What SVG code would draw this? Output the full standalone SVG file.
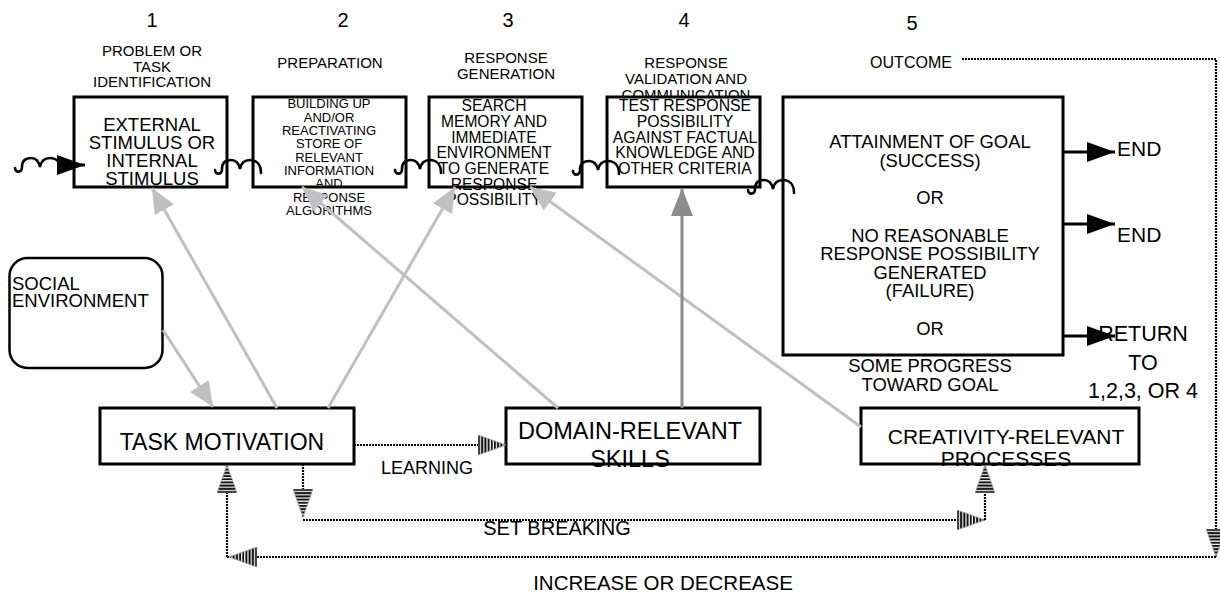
<svg xmlns="http://www.w3.org/2000/svg" width="1220" height="597" viewBox="0 0 1220 597">
<style>
text{font-family:"Liberation Sans",Arial,sans-serif;fill:#000}
.c{text-anchor:middle}
.box{fill:#fff;stroke:#000;stroke-width:3}
.num{font-size:20px}
.lab{font-size:15px}
.gl{stroke:#c0c0c0;stroke-width:3;fill:none;marker-end:url(#gHead)}
.dl{stroke:#8c8c8c;stroke-width:3;fill:none;marker-end:url(#dHead)}
.bl{stroke:#000;stroke-width:3;fill:none;marker-end:url(#bHead)}
.dot{stroke:#000;stroke-width:2.2;stroke-dasharray:2 1;fill:none}
.sa{marker-end:url(#sHead)}
.sq{stroke:#000;stroke-width:2.6;fill:none;stroke-linecap:round}
</style>
<defs>
<pattern id="stripes" patternUnits="userSpaceOnUse" width="3.2" height="30"><rect width="3.2" height="30" fill="#fff"/><rect width="2" height="30" fill="#111"/></pattern>
<marker id="gHead" markerUnits="userSpaceOnUse" viewBox="0 0 25 22" refX="25" refY="11" markerWidth="25" markerHeight="22" orient="auto"><path d="M0,0 L25,11 L0,22 z" fill="#c0c0c0"/></marker>
<marker id="dHead" markerUnits="userSpaceOnUse" viewBox="0 0 28 22" refX="28" refY="11" markerWidth="28" markerHeight="22" orient="auto"><path d="M0,0 L28,11 L0,22 z" fill="#8c8c8c"/></marker>
<marker id="bHead" markerUnits="userSpaceOnUse" viewBox="0 0 28 20" refX="28" refY="10" markerWidth="28" markerHeight="20" orient="auto"><path d="M0,0 L28,10 L0,20 z" fill="#000"/></marker>
<marker id="sHead" markerUnits="userSpaceOnUse" viewBox="0 0 28 20" refX="28" refY="10" markerWidth="28" markerHeight="20" orient="auto"><path d="M0,0 L28,10 L0,20 z" fill="url(#stripes)" stroke="#999" stroke-width="0.8"/></marker>
<path id="sq" d="M0,10 C0,15 7,15 7,9 C7,3 10,0 16,0 C21,0 24,4 25,9 C26,3 29,0 35,0 C41,0 46,4 46,13"/>
</defs>

<g id="stage-labels">
<text class="c num" x="152" y="27">1</text>
<text class="c num" x="343" y="27">2</text>
<text class="c num" x="508" y="27">3</text>
<text class="c num" x="684" y="27">4</text>
<text class="c num" x="912" y="30">5</text>
<text class="c lab" x="152" y="56">PROBLEM OR</text>
<text class="c lab" x="152" y="71.5">TASK</text>
<text class="c lab" x="152" y="87">IDENTIFICATION</text>
<text class="c lab" x="330" y="68">PREPARATION</text>
<text class="c lab" x="506" y="63">RESPONSE</text>
<text class="c lab" x="506" y="79">GENERATION</text>
<text class="c lab" x="686" y="68">RESPONSE</text>
<text class="c lab" x="686" y="84">VALIDATION AND</text>
<text class="c lab" x="686" y="99.5">COMMUNICATION</text>
<text class="c" x="911" y="68" font-size="16">OUTCOME</text>
</g>

<g id="box1">
<rect class="box" x="74" y="97" width="153" height="90"/>
<g class="c" font-size="18.5"><text x="152" y="131">EXTERNAL</text><text x="152" y="149">STIMULUS OR</text><text x="152" y="167">INTERNAL</text><text x="152" y="185">STIMULUS</text></g>
</g>
<g id="box2">
<rect class="box" x="253" y="97" width="153" height="90"/>
<g class="c" font-size="13"><text x="329" y="108">BUILDING UP</text><text x="329" y="121.5">AND/OR</text><text x="329" y="135">REACTIVATING</text><text x="329" y="148">STORE OF</text><text x="329" y="161.5">RELEVANT</text><text x="329" y="175">INFORMATION</text><text x="329" y="188">AND</text><text x="329" y="201.5">RESPONSE</text><text x="329" y="215">ALGORITHMS</text></g>
</g>
<g id="box3">
<rect class="box" x="429" y="97" width="153" height="90"/>
<g class="c" font-size="15.6"><text x="494" y="111">SEARCH</text><text x="494" y="127">MEMORY AND</text><text x="494" y="143">IMMEDIATE</text><text x="494" y="158">ENVIRONMENT</text><text x="494" y="174">TO GENERATE</text><text x="494" y="189.5">RESPONSE</text><text x="494" y="205">POSSIBILITY</text></g>
</g>
<g id="box4">
<rect class="box" x="607" y="97" width="153" height="90"/>
<g class="c" font-size="15.8"><text x="685" y="111">TEST RESPONSE</text><text x="685" y="127">POSSIBILITY</text><text x="685" y="143">AGAINST FACTUAL</text><text x="685" y="158">KNOWLEDGE AND</text><text x="685" y="174">OTHER CRITERIA</text></g>
</g>
<g id="box5">
<rect class="box" x="783" y="97" width="280" height="258"/>
<g class="c" font-size="18.4"><text x="930" y="148">ATTAINMENT OF GOAL</text><text x="930" y="167">(SUCCESS)</text><text x="930" y="204">OR</text><text x="930" y="241.5">NO REASONABLE</text><text x="930" y="260">RESPONSE POSSIBILITY</text><text x="930" y="278.5">GENERATED</text><text x="930" y="297">(FAILURE)</text><text x="930" y="335">OR</text><text x="930" y="372">SOME PROGRESS</text><text x="930" y="391">TOWARD GOAL</text></g>
</g>
<g id="outcomes">
<text x="1117" y="156" font-size="21">END</text>
<text x="1117" y="242" font-size="21">END</text>
<g class="c" font-size="21.5"><text x="1143" y="341">RETURN</text><text x="1143" y="369.5">TO</text><text x="1143" y="398">1,2,3, OR 4</text></g>
</g>
<g id="social-environment">
<rect x="9.5" y="258" width="153" height="110" rx="18" fill="#fff" stroke="#000" stroke-width="2.5"/>
<text x="12" y="290" font-size="18.5">SOCIAL</text><text x="12" y="307" font-size="18.5">ENVIRONMENT</text>
</g>
<g id="task-motivation">
<rect class="box" x="100" y="408" width="254" height="56"/>
<text class="c" x="222" y="450" font-size="23">TASK MOTIVATION</text>
</g>
<g id="domain-relevant-skills">
<rect class="box" x="506" y="408" width="254" height="56"/>
<g class="c" font-size="23.5"><text x="630" y="439">DOMAIN-RELEVANT</text><text x="630" y="467">SKILLS</text></g>
</g>
<g id="creativity-relevant-processes">
<rect class="box" x="861" y="408" width="278" height="56"/>
<g class="c" font-size="21"><text x="1006" y="444">CREATIVITY-RELEVANT</text><text x="1006" y="466">PROCESSES</text></g>
</g>

<g id="connectors">
<use href="#sq" class="sq" x="15" y="158"/>
<path class="bl" d="M58,165 L85,165"/>
<use href="#sq" class="sq" x="215" y="160"/>
<use href="#sq" class="sq" x="395" y="160"/>
<use href="#sq" class="sq" x="573" y="161"/>
<use href="#sq" class="sq" x="748" y="180"/>
<path class="bl" d="M1063,152 L1115,152"/>
<path class="bl" d="M1063,224 L1115,224"/>
<path class="bl" d="M1063,336 L1115,336"/>
<path class="gl" d="M277,408 L152,188"/>
<path class="gl" d="M328,408 L455,187"/>
<path class="gl" d="M558,408 L302,187"/>
<path class="gl" d="M861,427 L530,187"/>
<path class="gl" d="M163,330 L213,407"/>
<path class="dl" d="M682,408 L682,188"/>
<path class="dot sa" d="M354,445 L506,445"/>
<path class="dot sa" d="M303,464 L303,517"/>
<path class="dot sa" d="M303,520 L985,520"/>
<path class="dot sa" d="M985,520 L985,465"/>
<path class="dot sa" d="M962,59 L1216,59 L1216,557"/>
<path class="dot sa" d="M1216,557 L229,557"/>
<path class="dot" d="M229,557 L227,557"/>
<path class="dot sa" d="M227,557 L227,465"/>
<text x="427" y="474" class="c" font-size="18">LEARNING</text>
<text x="557" y="535" class="c" font-size="20">SET BREAKING</text>
<text x="663" y="590" class="c" font-size="20.5">INCREASE OR DECREASE</text>
</g>
</svg>
